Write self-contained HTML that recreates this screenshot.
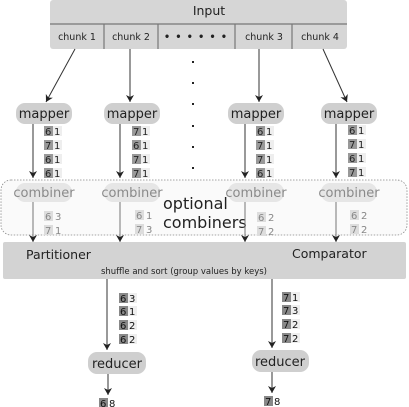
<!DOCTYPE html>
<html><head><meta charset="utf-8"><style>
html,body{margin:0;padding:0;background:#fff;}
svg{display:block;font-family:"DejaVu Sans","Liberation Sans",sans-serif;}
</style></head><body>
<svg width="409" height="407" viewBox="0 0 409 407" xmlns="http://www.w3.org/2000/svg">
<defs>
<marker id="a" markerWidth="8" markerHeight="8" refX="7" refY="4" orient="auto" markerUnits="userSpaceOnUse">
<path d="M0,0 L7,4 L0,8 L2,4 z" fill="#222"/></marker>
</defs>
<rect x="50" y="0" width="297" height="49" rx="3" fill="#d6d6d6"/>
<line x1="50" y1="24" x2="347" y2="24" stroke="#777" stroke-width="1.2"/>
<g stroke="#777" stroke-width="1.2">
<line x1="104" y1="24" x2="104" y2="49"/><line x1="158" y1="24" x2="158" y2="49"/>
<line x1="235" y1="24" x2="235" y2="49"/><line x1="292" y1="24" x2="292" y2="49"/>
</g>
<text x="209" y="15" font-size="12.5" text-anchor="middle" fill="#222">Input</text>
<g font-size="9.5" fill="#222" text-anchor="middle">
<text x="77" y="40">chunk 1</text><text x="131" y="40">chunk 2</text>
<text x="196" y="40" font-weight="bold" letter-spacing="1">• • • • • •</text>
<text x="264" y="40">chunk 3</text><text x="320" y="40">chunk 4</text>
</g>
<g stroke="#333" stroke-width="1" marker-end="url(#a)">
<line x1="75" y1="49" x2="46" y2="102"/>
<line x1="130" y1="49" x2="130" y2="102"/>
<line x1="259" y1="49" x2="259" y2="102"/>
<line x1="323" y1="49" x2="347" y2="102"/>
</g>
<g fill="#222"><rect x="192" y="61" width="2" height="2"/><rect x="192" y="82" width="2" height="2"/><rect x="192" y="103" width="2" height="2"/><rect x="192" y="125" width="2" height="2"/><rect x="192" y="146" width="2" height="2"/><rect x="192" y="167" width="2" height="2"/></g>
<g fill="#cfcfcf"><rect x="16" y="103" width="56" height="21" rx="9"/><rect x="104" y="103" width="56" height="21" rx="9"/><rect x="228" y="103" width="56" height="21" rx="9"/><rect x="321" y="103" width="56" height="21" rx="9"/></g>
<g font-size="13" fill="#222" text-anchor="middle"><text x="44" y="118">mapper</text><text x="132" y="118">mapper</text><text x="256" y="118">mapper</text><text x="349" y="118">mapper</text></g>
<rect x="1" y="180" width="406" height="55" rx="10" fill="#fafafa" stroke="#888" stroke-width="0.8" stroke-dasharray="1.5,1.5"/>
<g stroke="#333" stroke-width="1" marker-end="url(#a)">
<line x1="33" y1="124" x2="33" y2="178"/><line x1="120" y1="124" x2="120" y2="178"/>
<line x1="245" y1="124" x2="245" y2="178"/><line x1="336" y1="124" x2="336" y2="178"/>
</g>
<g fill="#e6e6e6"><rect x="16" y="183" width="56" height="19" rx="9"/><rect x="104" y="183" width="56" height="19" rx="9"/><rect x="228" y="183" width="56" height="19" rx="9"/><rect x="321" y="183" width="56" height="19" rx="9"/></g>
<g font-size="13" fill="#8a8a8a" text-anchor="middle"><text x="44" y="197">combiner</text><text x="132" y="197">combiner</text><text x="256" y="197">combiner</text><text x="349" y="197">combiner</text></g>
<g font-size="16" fill="#222"><text x="163" y="209">optional</text><text x="163" y="228">combiners</text></g>
<g stroke="#777" stroke-width="1" marker-end="url(#a)">
<line x1="33" y1="202" x2="33" y2="242"/><line x1="120" y1="202" x2="120" y2="242"/>
<line x1="245" y1="202" x2="245" y2="242"/><line x1="336" y1="202" x2="336" y2="242"/>
</g>
<g fill="#999"><rect x="44" y="126" width="9" height="10"/><rect x="44" y="140" width="9" height="10"/><rect x="44" y="154" width="9" height="10"/><rect x="44" y="168" width="9" height="10"/>
<rect x="132" y="126" width="9" height="10"/><rect x="132" y="140" width="9" height="10"/><rect x="132" y="154" width="9" height="10"/><rect x="132" y="168" width="9" height="10"/>
<rect x="256" y="126" width="9" height="10"/><rect x="256" y="140" width="9" height="10"/><rect x="256" y="154" width="9" height="10"/><rect x="256" y="168" width="9" height="10"/>
<rect x="348" y="125" width="9" height="10"/><rect x="348" y="139" width="9" height="10"/><rect x="348" y="153" width="9" height="10"/><rect x="348" y="167" width="9" height="10"/></g>
<g fill="#eee"><rect x="53" y="126" width="9" height="10"/><rect x="53" y="140" width="9" height="10"/><rect x="53" y="154" width="9" height="10"/><rect x="53" y="168" width="9" height="10"/>
<rect x="141" y="126" width="9" height="10"/><rect x="141" y="140" width="9" height="10"/><rect x="141" y="154" width="9" height="10"/><rect x="141" y="168" width="9" height="10"/>
<rect x="265" y="126" width="9" height="10"/><rect x="265" y="140" width="9" height="10"/><rect x="265" y="154" width="9" height="10"/><rect x="265" y="168" width="9" height="10"/>
<rect x="357" y="125" width="9" height="10"/><rect x="357" y="139" width="9" height="10"/><rect x="357" y="153" width="9" height="10"/><rect x="357" y="167" width="9" height="10"/></g>
<g font-size="10" fill="#222">
<text x="45" y="135">6</text><text x="54" y="135">1</text><text x="45" y="149">7</text><text x="54" y="149">1</text><text x="45" y="163">6</text><text x="54" y="163">1</text><text x="45" y="177">6</text><text x="54" y="177">1</text>
<text x="133" y="135">7</text><text x="142" y="135">1</text><text x="133" y="149">6</text><text x="142" y="149">1</text><text x="133" y="163">7</text><text x="142" y="163">1</text><text x="133" y="177">7</text><text x="142" y="177">1</text>
<text x="257" y="135">6</text><text x="266" y="135">1</text><text x="257" y="149">7</text><text x="266" y="149">1</text><text x="257" y="163">7</text><text x="266" y="163">1</text><text x="257" y="177">6</text><text x="266" y="177">1</text>
<text x="349" y="134">6</text><text x="358" y="134">1</text><text x="349" y="148">7</text><text x="358" y="148">1</text><text x="349" y="162">6</text><text x="358" y="162">1</text><text x="349" y="176">7</text><text x="358" y="176">1</text>
</g>
<g fill="#ddd"><rect x="44" y="211" width="9" height="10"/><rect x="44" y="225" width="9" height="10"/><rect x="135" y="210" width="9" height="10"/><rect x="135" y="224" width="9" height="10"/><rect x="257" y="212" width="9" height="10"/><rect x="257" y="226" width="9" height="10"/><rect x="350" y="210" width="9" height="10"/><rect x="350" y="224" width="9" height="10"/></g>
<g font-size="10" fill="#888">
<text x="45" y="220">6</text><text x="55" y="220">3</text><text x="45" y="234">7</text><text x="55" y="234">1</text>
<text x="136" y="219">6</text><text x="146" y="219">1</text><text x="136" y="233">7</text><text x="146" y="233">3</text>
<text x="258" y="221">6</text><text x="268" y="221">2</text><text x="258" y="235">7</text><text x="268" y="235">2</text>
<text x="351" y="219">6</text><text x="361" y="219">2</text><text x="351" y="233">7</text><text x="361" y="233">2</text>
</g>
<rect x="3" y="242" width="403" height="37" rx="2" fill="#d3d3d3"/>
<text x="26" y="259" font-size="12.5" fill="#222">Partitioner</text>
<text x="292" y="258" font-size="12.5" fill="#222">Comparator</text>
<text x="184" y="274" font-size="8.5" fill="#222" text-anchor="middle">shuffle and sort (group values by keys)</text>
<g stroke="#333" stroke-width="1" marker-end="url(#a)">
<line x1="107" y1="279" x2="107" y2="350"/><line x1="272" y1="279" x2="272" y2="348"/>
<line x1="108" y1="374" x2="108" y2="395"/><line x1="272" y1="372" x2="272" y2="393"/>
</g>
<g fill="#888"><rect x="119" y="293" width="9" height="10"/><rect x="119" y="306" width="9" height="10"/><rect x="119" y="320" width="9" height="10"/><rect x="119" y="334" width="9" height="10"/>
<rect x="282" y="292" width="9" height="10"/><rect x="282" y="305" width="9" height="10"/><rect x="282" y="319" width="9" height="10"/><rect x="282" y="333" width="9" height="10"/>
<rect x="99" y="398" width="9" height="9"/><rect x="264" y="396" width="9" height="10"/></g>
<g fill="#eee"><rect x="128" y="293" width="9" height="10"/><rect x="128" y="306" width="9" height="10"/><rect x="128" y="320" width="9" height="10"/><rect x="128" y="334" width="9" height="10"/>
<rect x="291" y="292" width="9" height="10"/><rect x="291" y="305" width="9" height="10"/><rect x="291" y="319" width="9" height="10"/><rect x="291" y="333" width="9" height="10"/></g>
<g font-size="10" fill="#111">
<text x="120" y="302">6</text><text x="129" y="302">3</text><text x="120" y="315">6</text><text x="129" y="315">1</text><text x="120" y="329">6</text><text x="129" y="329">2</text><text x="120" y="343">6</text><text x="129" y="343">2</text>
<text x="283" y="301">7</text><text x="292" y="301">1</text><text x="283" y="314">7</text><text x="292" y="314">3</text><text x="283" y="328">7</text><text x="292" y="328">2</text><text x="283" y="342">7</text><text x="292" y="342">2</text>
<text x="100" y="407">6</text><text x="109" y="407">8</text><text x="265" y="405">7</text><text x="274" y="405">8</text>
</g>
<rect x="88" y="352" width="58" height="22" rx="9" fill="#cfcfcf"/>
<rect x="252" y="350" width="57" height="22" rx="9" fill="#cfcfcf"/>
<g font-size="13" fill="#222" text-anchor="middle"><text x="117" y="368">reducer</text><text x="280" y="366">reducer</text></g>
</svg>
</body></html>
